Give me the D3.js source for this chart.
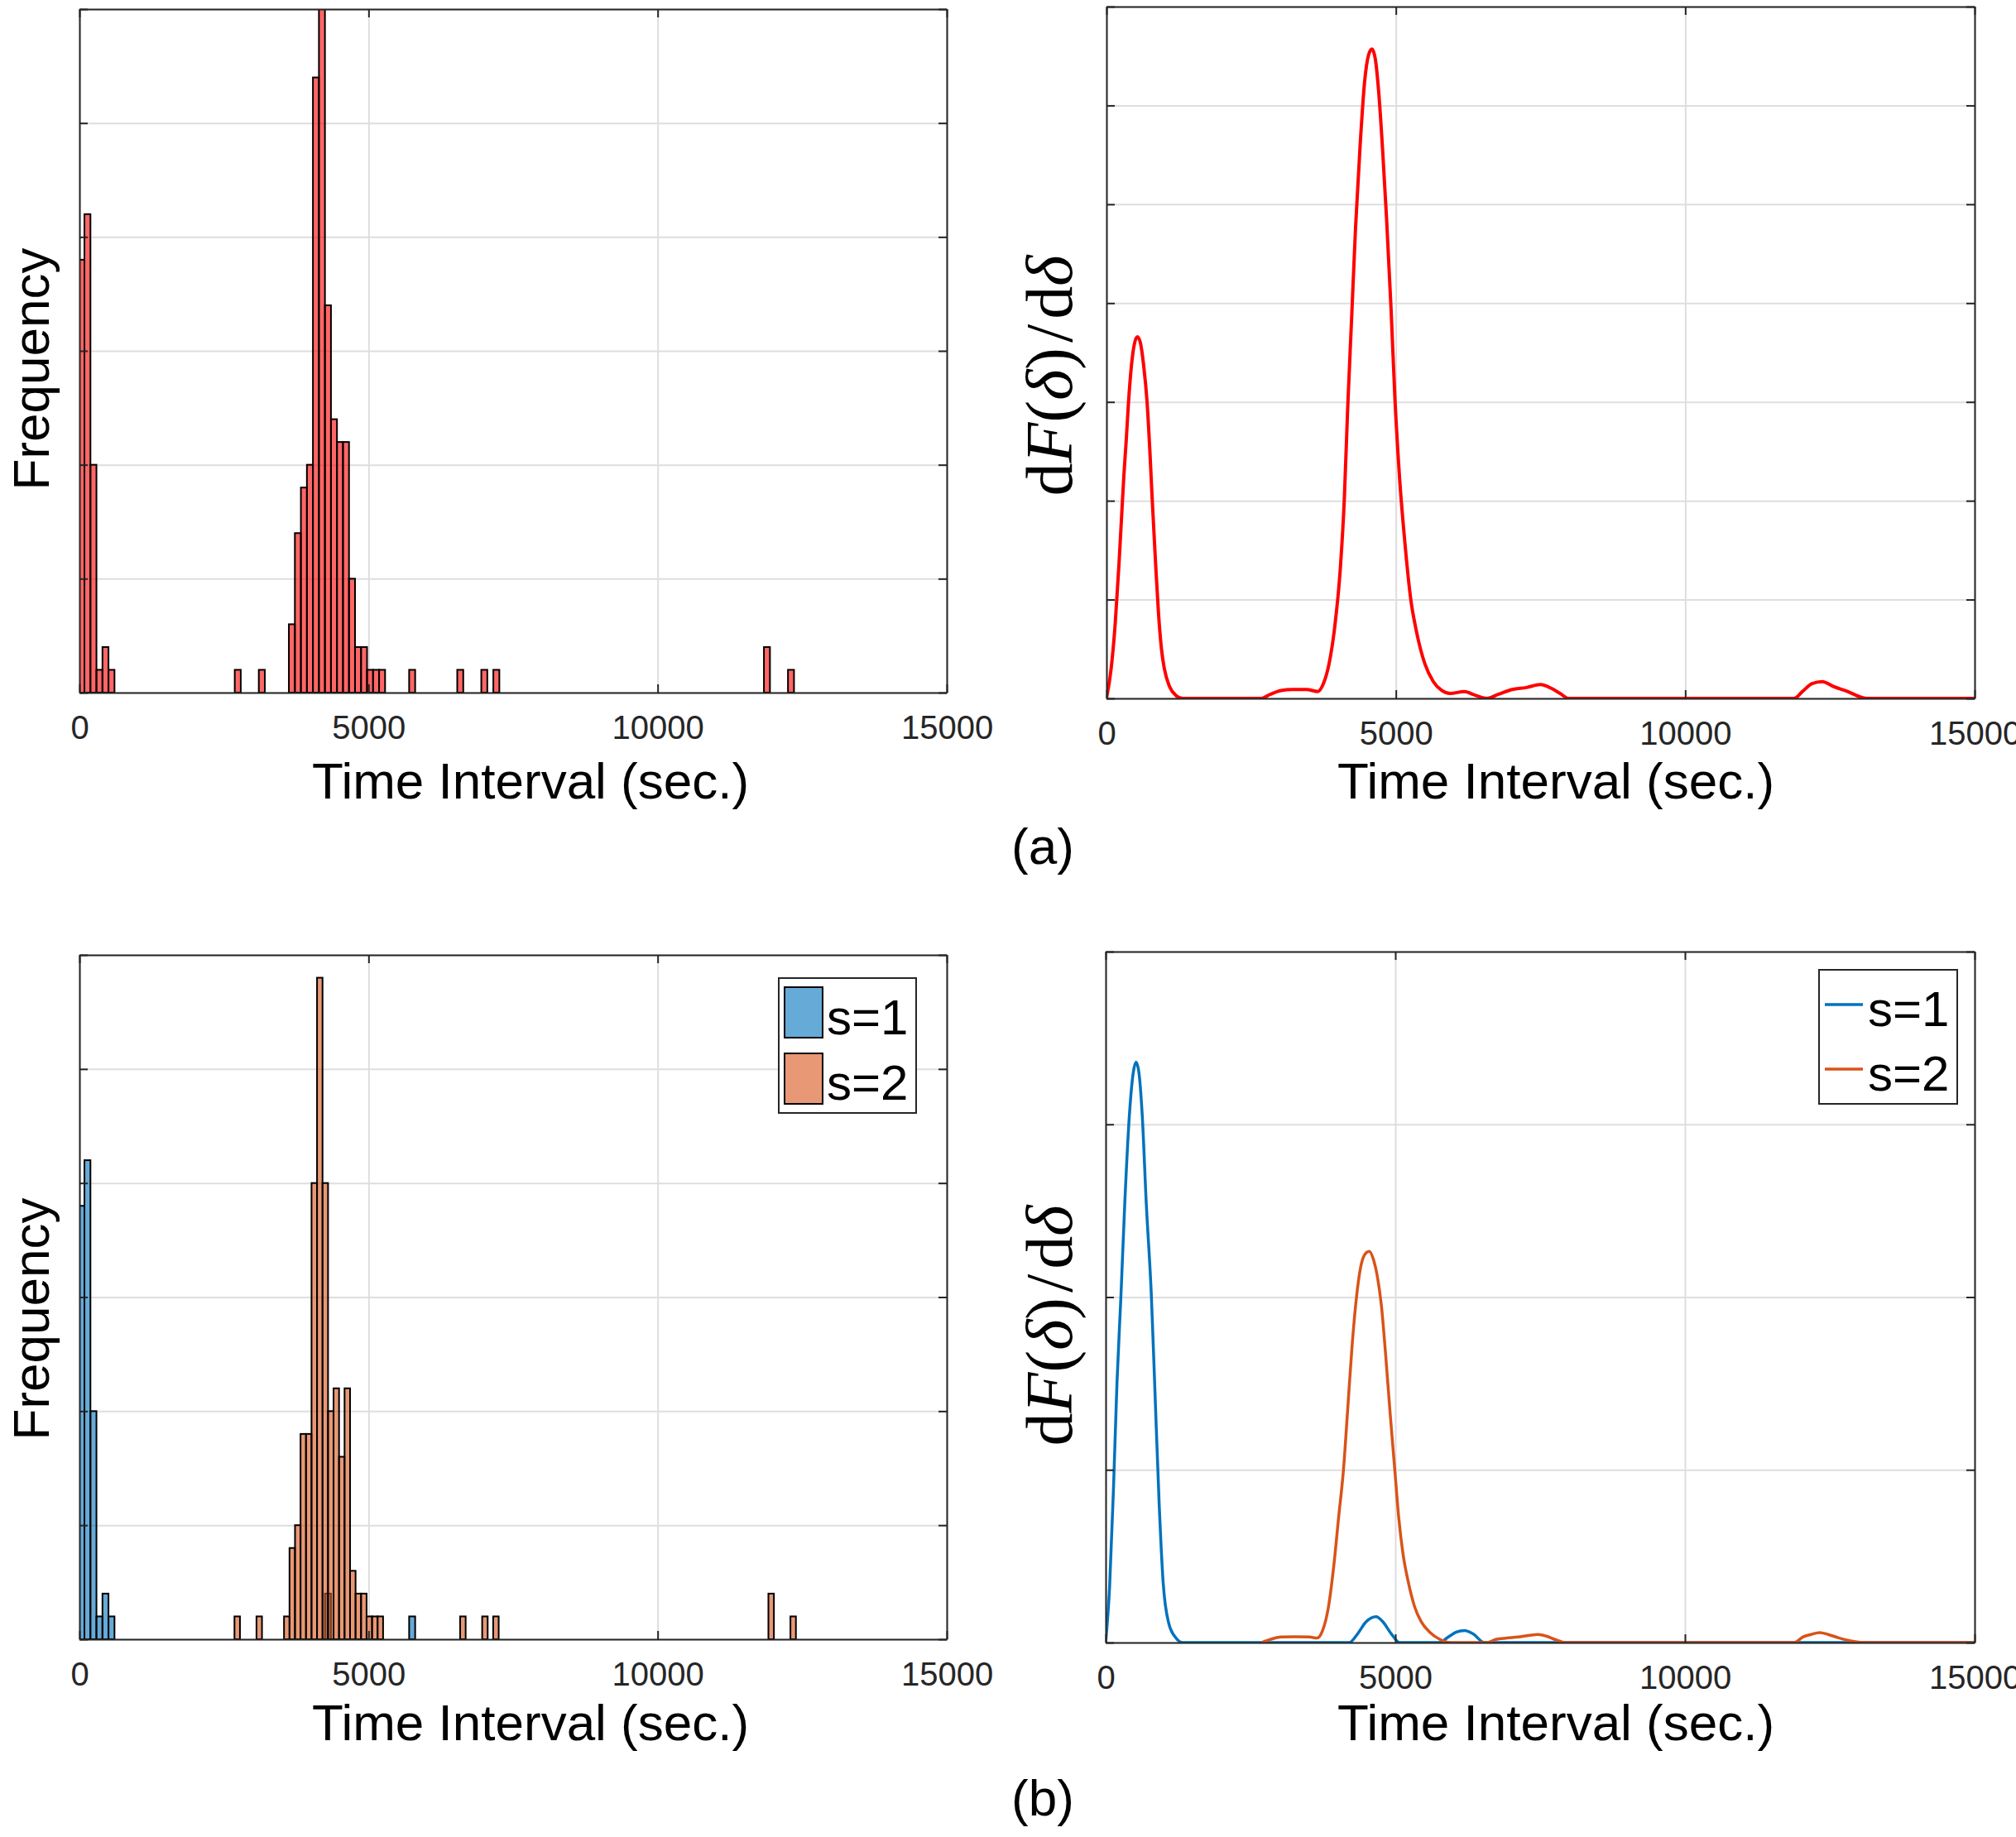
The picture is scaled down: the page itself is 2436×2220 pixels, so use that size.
<!DOCTYPE html>
<html>
<head>
<meta charset="utf-8">
<title>Time Interval: histograms and densities</title>
<script src="https://d3js.org/d3.v7.min.js"></script>
<style>
  body { margin: 0; background: #fff; }
  svg { display: block; }
  .lbl { font-family: "Liberation Sans", Arial, sans-serif; font-size: 62px; fill: #000; }
  .math { font-family: "Liberation Serif", "Times New Roman", serif; font-size: 80px; fill: #000; }
  .leg { font-family: "Liberation Sans", Arial, sans-serif; font-size: 60px; fill: #000; }
</style>
</head>
<body>
<svg id="fig"></svg>
<script>
// ---- data ----
var xTickValues = [0, 5000, 10000, 15000];

// (a) left: all intervals, bins start at -18 s, 104 s wide
var allBinStart = -18, allBinWidth = 104;
var allBinIndex = [0, 1, 2, 3, 4, 5, 26, 30, 35, 36, 37, 38, 39, 40, 41, 42, 43, 44, 45, 46, 47, 48, 49, 50, 55, 63, 67, 69, 114, 118];
var allCounts   = [19, 21, 10, 1, 2, 1, 1, 1, 3, 7, 9, 10, 27, 30, 17, 12, 11, 11, 5, 2, 2, 1, 1, 1, 1, 1, 1, 1, 2, 1];

// (b) left: s=1 uses the same bins as (a)
var s1BinIndex = [0, 1, 2, 3, 4, 5, 41, 55];
var s1Counts   = [19, 21, 10, 1, 2, 1, 2, 1];

// (b) left: s=2 has its own bins
var s2BinStart = 2681, s2BinWidth = 95.2;
var s2BinIndex = [0, 4, 9, 10, 11, 12, 13, 14, 15, 16, 17, 18, 19, 20, 21, 22, 23, 24, 25, 26, 41, 45, 47, 97, 101];
var s2Counts   = [1, 1, 1, 4, 5, 9, 9, 20, 29, 20, 10, 11, 8, 11, 3, 2, 2, 1, 1, 1, 1, 1, 1, 2, 1];

// density curves, y in grid steps (the axes carry no y numbers)
var redX = [0, 80, 150, 215, 262, 300, 340, 381, 430, 480, 533, 585, 640, 701, 750, 787, 850, 900, 950, 1000, 1090, 1200, 1315,
            2680, 2824, 3018, 3213, 3457, 3651, 3749, 3846, 3943, 4041, 4109, 4167, 4236, 4304, 4382, 4460, 4528, 4586, 4645, 4703,
            4771, 4839, 4917, 4985, 5063, 5160, 5258, 5355, 5501, 5647, 5793, 5939, 6183, 6378, 6573, 6767, 7011, 7254, 7497, 7692,
            7838, 7984, 11879, 12025, 12191, 12366, 12561, 12804, 13048, 13126, 15000];
var redY = [0, 0.3, 0.75, 1.35, 1.85, 2.25, 2.6, 3.0, 3.36, 3.58, 3.66, 3.6, 3.38, 3.0, 2.5, 2.05, 1.35, 0.85, 0.5, 0.3, 0.12, 0.03, 0,
            0, 0.04, 0.08, 0.09, 0.09, 0.07, 0.15, 0.35, 0.72, 1.32, 2.01, 2.93, 3.85, 4.77, 5.59, 6.24, 6.51, 6.57, 6.47, 6.14,
            5.55, 4.86, 3.94, 3.02, 2.24, 1.55, 1.0, 0.68, 0.35, 0.17, 0.08, 0.05, 0.07, 0.03, 0, 0.04, 0.09, 0.11, 0.14, 0.10,
            0.05, 0, 0, 0.07, 0.15, 0.17, 0.12, 0.07, 0.01, 0, 0];

var blueX = [0, 68, 136, 195, 263, 331, 409, 477, 525, 574, 632, 700, 790, 846, 924, 992, 1090, 1206, 1333,
             4203, 4348, 4494, 4669, 4786, 4932, 5078, 5759, 5905, 6051, 6197, 6343, 6537, 15000];
var blueY = [0, 0.32, 0.9, 1.5, 2.0, 2.55, 3.05, 3.3, 3.36, 3.3, 3.05, 2.55, 2.0, 1.5, 0.8, 0.35, 0.11, 0.03, 0,
             0, 0.05, 0.12, 0.15, 0.12, 0.05, 0, 0, 0.03, 0.06, 0.07, 0.05, 0, 0];

var orangeX = [2695, 2841, 3035, 3278, 3522, 3648, 3745, 3843, 3940, 4020, 4105, 4180, 4250, 4330, 4400, 4480, 4553,
               4620, 4690, 4760, 4830, 4910, 4991, 5060, 5130, 5224, 5331, 5448, 5594, 5759, 5954,
               6586, 6732, 6926, 7121, 7315, 7461, 7607, 7753, 7948, 11888, 12034, 12179, 12325, 12471, 12666, 12860, 13074, 15000];
var orangeY = [0, 0.018, 0.032, 0.034, 0.032, 0.026, 0.07, 0.2, 0.45, 0.72, 1.0, 1.36, 1.7, 2.0, 2.17, 2.25, 2.265,
               2.22, 2.12, 1.95, 1.68, 1.33, 1.0, 0.72, 0.52, 0.35, 0.21, 0.12, 0.06, 0.02, 0,
               0, 0.018, 0.026, 0.032, 0.042, 0.047, 0.037, 0.018, 0, 0, 0.032, 0.047, 0.058, 0.047, 0.026, 0.01, 0, 0];

var legendLabels = ["s=1", "s=2"];

// ---- colours ----
var red = "#ff0000", blue = "#0072bd", orange = "#d95319";
var gridColor = "#dedede", axisColor = "#262626";

var svg = d3.select("#fig").attr("width", 2436).attr("height", 2220);
svg.append("rect").attr("width", 2436).attr("height", 2220).attr("fill", "#fff");

function panel(box, yMax, yStep, id) {
  var x = d3.scaleLinear().domain([0, 15000]).range([box.left, box.right]);
  var y = d3.scaleLinear().domain([0, yMax]).range([box.bottom, box.top]);
  var yTicks = d3.range(0, yMax + yStep / 2, yStep);
  var w = box.right - box.left, h = box.bottom - box.top;

  var g = svg.append("g");
  // grid
  g.append("g").attr("transform", "translate(0," + box.bottom + ")")
    .call(d3.axisBottom(x).tickValues(xTickValues).tickSize(-h).tickFormat(""))
    .call(function (a) { a.select(".domain").remove(); })
    .selectAll("line").attr("stroke", gridColor).attr("stroke-width", 2);
  g.append("g").attr("transform", "translate(" + box.left + ",0)")
    .call(d3.axisLeft(y).tickValues(yTicks).tickSize(-w).tickFormat(""))
    .call(function (a) { a.select(".domain").remove(); })
    .selectAll("line").attr("stroke", gridColor).attr("stroke-width", 2);

  svg.append("clipPath").attr("id", id).append("rect")
    .attr("x", box.left).attr("y", box.top).attr("width", w).attr("height", h);
  var plot = g.append("g").attr("clip-path", "url(#" + id + ")");

  // frame + inward ticks, drawn over the data
  var frame = svg.append("g");
  var bottom = frame.append("g").attr("transform", "translate(0," + box.bottom + ")")
    .call(d3.axisBottom(x).tickValues(xTickValues).tickSizeInner(-10).tickSizeOuter(0)
      .tickPadding(28).tickFormat(d3.format("d")));
  bottom.selectAll("text").attr("font-family", "Liberation Sans, Arial, sans-serif")
    .attr("font-size", 40).attr("fill", axisColor);
  frame.append("g").attr("transform", "translate(0," + box.top + ")")
    .call(d3.axisTop(x).tickValues(xTickValues).tickSizeInner(-10).tickSizeOuter(0).tickFormat(""));
  frame.append("g").attr("transform", "translate(" + box.left + ",0)")
    .call(d3.axisLeft(y).tickValues(yTicks).tickSizeInner(-10).tickSizeOuter(0).tickFormat(""));
  frame.append("g").attr("transform", "translate(" + box.right + ",0)")
    .call(d3.axisRight(y).tickValues(yTicks).tickSizeInner(-10).tickSizeOuter(0).tickFormat(""));
  frame.selectAll(".domain").attr("stroke", axisColor).attr("stroke-width", 2);
  frame.selectAll(".tick line").attr("stroke", axisColor).attr("stroke-width", 2);

  return { x: x, y: y, plot: plot };
}

function bars(p, start, width, idx, counts, color) {
  p.plot.append("g").selectAll("rect")
    .data(idx.map(function (k, i) { return { k: k, n: counts[i] }; }))
    .join("rect")
    .attr("x", function (d) { return p.x(start + d.k * width); })
    .attr("width", function (d) { return p.x(start + (d.k + 1) * width) - p.x(start + d.k * width); })
    .attr("y", function (d) { return p.y(d.n); })
    .attr("height", function (d) { return p.y(0) - p.y(d.n); })
    .attr("fill", color).attr("fill-opacity", 0.6)
    .attr("stroke", "#000").attr("stroke-width", 2);
}

function curve(p, xs, ys, color, lw) {
  var line = d3.line()
    .x(function (d) { return p.x(d[0]); })
    .y(function (d) { return p.y(d[1]); })
    .curve(d3.curveMonotoneX);
  p.plot.append("path")
    .datum(xs.map(function (v, i) { return [v, ys[i]]; }))
    .attr("d", line)
    .attr("fill", "none").attr("stroke", color).attr("stroke-width", lw)
    .attr("stroke-linejoin", "round");
}

function freqLabel(cy) {
  svg.append("text").attr("class", "lbl").attr("text-anchor", "middle")
    .attr("transform", "translate(59," + cy + ") rotate(-90)").text("Frequency");
}
function densLabel(cy) {
  var t = svg.append("text").attr("class", "math").attr("text-anchor", "middle")
    .attr("transform", "translate(1295," + cy + ") rotate(-90)");
  t.append("tspan").text("d");
  t.append("tspan").attr("font-style", "italic").text("F");
  t.append("tspan").text("(");
  t.append("tspan").attr("font-style", "italic").text("δ");
  t.append("tspan").text(")");
  t.append("tspan").attr("dx", 6).text("/");
  t.append("tspan").attr("dx", 6).text("d");
  t.append("tspan").attr("font-style", "italic").text("δ");
}
function timeLabel(cx, by) {
  svg.append("text").attr("class", "lbl").attr("text-anchor", "middle")
    .attr("x", cx).attr("y", by).text("Time Interval (sec.)");
}

// ---- (a) ----
var pa1 = panel({ left: 96, right: 1144, top: 11, bottom: 837 }, 30, 5, "c1");
bars(pa1, allBinStart, allBinWidth, allBinIndex, allCounts, red);
freqLabel(446);
timeLabel(641, 965);

var pa2 = panel({ left: 1337, right: 2386, top: 8, bottom: 844 }, 7, 1, "c2");
curve(pa2, redX, redY, red, 4);
densLabel(454);
timeLabel(1880, 965);

svg.append("text").attr("class", "lbl").attr("font-size", 68).attr("text-anchor", "middle")
  .attr("x", 1260).attr("y", 1044).text("(a)");

// ---- (b) ----
var pb1 = panel({ left: 96, right: 1144, top: 1154, bottom: 1981 }, 30, 5, "c3");
bars(pb1, allBinStart, allBinWidth, s1BinIndex, s1Counts, blue);
bars(pb1, s2BinStart, s2BinWidth, s2BinIndex, s2Counts, orange);
freqLabel(1594);
timeLabel(641, 2103);

var pb2 = panel({ left: 1336, right: 2386, top: 1150, bottom: 1985 }, 4, 1, "c4");
curve(pb2, blueX, blueY, blue, 3.5);
curve(pb2, orangeX, orangeY, orange, 3.5);
densLabel(1602);
timeLabel(1880, 2103);

svg.append("text").attr("class", "lbl").attr("font-size", 68).attr("text-anchor", "middle")
  .attr("x", 1260).attr("y", 2194).text("(b)");

// legends
var colors = [blue, orange];
var lg1 = svg.append("g");
lg1.append("rect").attr("x", 941).attr("y", 1182).attr("width", 166).attr("height", 163)
  .attr("fill", "#fff").attr("stroke", axisColor).attr("stroke-width", 2);
lg1.selectAll(".sw").data(legendLabels).join("rect").attr("class", "sw")
  .attr("x", 948).attr("y", function (d, i) { return 1193 + i * 80; })
  .attr("width", 46).attr("height", 61)
  .attr("fill", function (d, i) { return colors[i]; }).attr("fill-opacity", 0.6)
  .attr("stroke", "#000").attr("stroke-width", 2);
lg1.selectAll("text").data(legendLabels).join("text").attr("class", "leg")
  .attr("x", 999).attr("y", function (d, i) { return 1250 + i * 79; }).text(function (d) { return d; });

var lg2 = svg.append("g");
lg2.append("rect").attr("x", 2198).attr("y", 1172).attr("width", 167).attr("height", 162)
  .attr("fill", "#fff").attr("stroke", axisColor).attr("stroke-width", 2);
lg2.selectAll("line").data(legendLabels).join("line")
  .attr("x1", 2205).attr("x2", 2251)
  .attr("y1", function (d, i) { return 1214 + i * 78; }).attr("y2", function (d, i) { return 1214 + i * 78; })
  .attr("stroke", function (d, i) { return colors[i]; }).attr("stroke-width", 3.5);
lg2.selectAll("text").data(legendLabels).join("text").attr("class", "leg")
  .attr("x", 2257).attr("y", function (d, i) { return 1240 + i * 78; }).text(function (d) { return d; });
</script>
</body>
</html>
